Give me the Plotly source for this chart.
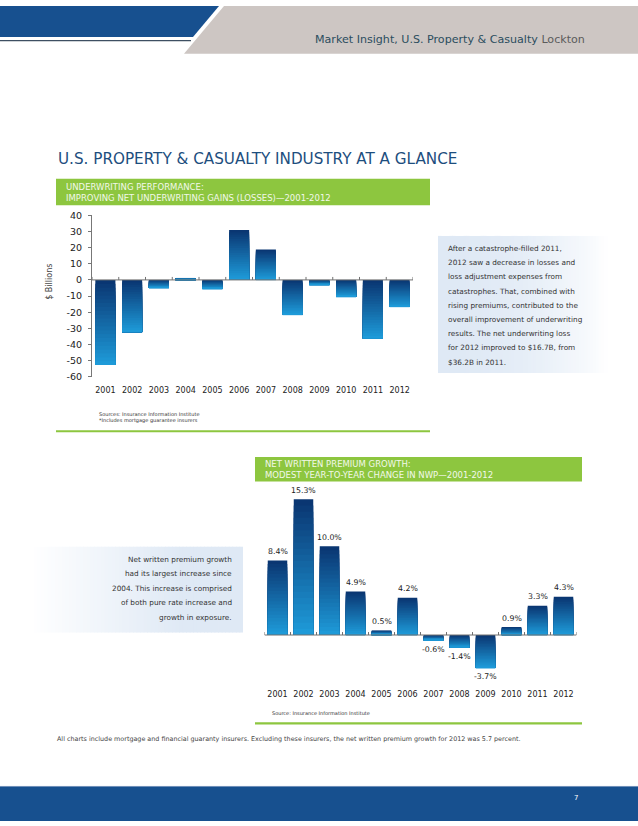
import plotly.graph_objects as go

W, H = 638, 826

# ---------------- data ----------------
years = ["2001", "2002", "2003", "2004", "2005", "2006",
         "2007", "2008", "2009", "2010", "2011", "2012"]
uw_gain = [-52.6, -32.3, -5.0, 1.2, -5.6, 30.9, 18.8, -21.2, -3.1, -10.4, -36.2, -16.7]
uw_ticks = [40, 30, 20, 10, 0, -10, -20, -30, -40, -50, -60]
nwp_growth = [8.4, 15.3, 10.0, 4.9, 0.5, 4.2, -0.6, -1.4, -3.7, 0.9, 3.3, 4.3]

header_text = "Market Insight, U.S. Property & Casualty "
header_brand = "Lockton"
page_title = "U.S. PROPERTY & CASUALTY INDUSTRY AT A GLANCE"
box1_lines = ["UNDERWRITING PERFORMANCE:",
              "IMPROVING NET UNDERWRITING GAINS (LOSSES)\u20142001-2012"]
box2_lines = ["NET WRITTEN PREMIUM GROWTH:",
              "MODEST YEAR-TO-YEAR CHANGE IN NWP\u20142001-2012"]
note1_lines = ["After a catastrophe-filled 2011,",
               "2012 saw a decrease in losses and",
               "loss adjustment expenses from",
               "catastrophes. That, combined with",
               "rising premiums, contributed to the",
               "overall improvement of underwriting",
               "results. The net underwriting loss",
               "for 2012 improved to $16.7B, from",
               "$36.2B in 2011."]
note2_lines = ["Net written premium growth",
               "had its largest increase since",
               "2004. This increase is comprised",
               "of both pure rate increase and",
               "growth in exposure."]
src1_lines = ["Sources: Insurance Information Institute",
              "*Includes mortgage guarantee insurers"]
src2_text = "Source: Insurance Information Institute"
footnote = ("All charts include mortgage and financial guaranty insurers. Excluding these "
            "insurers, the net written premium growth for 2012 was 5.7 percent.")
page_no = "7"
y_title = "$ Billions"

# ---------------- style ----------------
FONT = "DejaVu Sans"
BLUE = "#17508f"
GREY = "#cdc6c3"
GREEN = "#8dc63f"
DARK = (10, 52, 112)
LIGHT = (30, 156, 218)
NLAYER = 22


def px(x):
    return x / W


def py(y):
    return 1 - y / H


def mix(c1, c2, t):
    t = max(0.0, min(1.0, t))
    return "rgb(%d,%d,%d)" % tuple(round(a + (b - a) * t) for a, b in zip(c1, c2))


def hex2rgb(h):
    h = h.lstrip("#")
    return tuple(int(h[i:i + 2], 16) for i in (0, 2, 4))


fig = go.Figure()


# gradient bars built by overlaying progressively shorter bars from the bottom edge
def add_gradient_bars(values, xa, ya):
    bases = [min(v, 0) for v in values]
    for k in range(NLAYER):
        frac = 1 - k / NLAYER
        fig.add_trace(go.Bar(
            x=years, y=[abs(v) * frac for v in values], base=bases,
            marker=dict(color=mix(DARK, LIGHT, (k + 0.5) / NLAYER), line=dict(width=0)),
            xaxis=xa, yaxis=ya, showlegend=False, hoverinfo="skip"))


add_gradient_bars(uw_gain, "x", "y")
add_gradient_bars(nwp_growth, "x2", "y2")

# ---------------- axes ----------------
c1_top, c1_bot, c1_left, c1_right = 212, 376, 92, 413
c2_left, c2_right = 264.5, 576.5
c2_zero, c2_ppu = 637.5, 8.99
c2_top, c2_bot = 485, 685
y2_range = [-(c2_bot - c2_zero) / c2_ppu, (c2_zero - c2_top) / c2_ppu]

fig.update_layout(
    width=W, height=H, margin=dict(l=0, r=0, t=0, b=0),
    paper_bgcolor="white", plot_bgcolor="rgba(0,0,0,0)",
    barmode="overlay", bargap=0.25, showlegend=False,
    xaxis=dict(domain=[px(c1_left), px(c1_right)], type="category",
               range=[-0.5, len(years) - 0.5], showline=False, showgrid=False,
               zeroline=False, ticks="", tickfont=dict(family=FONT, size=8, color="#222"),
               ticklabelstandoff=7, fixedrange=True),
    yaxis=dict(domain=[py(c1_bot), py(c1_top)], range=[min(uw_ticks), max(uw_ticks)],
               tickvals=uw_ticks, ticktext=[str(t) for t in uw_ticks],
               showline=True, linecolor="#777", linewidth=1,
               ticks="outside", ticklen=3, tickcolor="#777", showgrid=False,
               zeroline=False, tickfont=dict(family=FONT, size=9.5, color="#222"),
               ticklabelstandoff=4, fixedrange=True),
    xaxis2=dict(domain=[px(c2_left), px(c2_right)], type="category", anchor="y2",
                range=[-0.5, len(years) - 0.5], showline=False, showgrid=False,
                zeroline=False, ticks="", tickfont=dict(family=FONT, size=8, color="#222"),
                ticklabelstandoff=6, fixedrange=True),
    yaxis2=dict(domain=[py(c2_bot), py(c2_top)], range=y2_range, anchor="x2",
                showline=False, showgrid=False, zeroline=False, showticklabels=False,
                ticks="", fixedrange=True),
)

shapes = []
annots = []

# header
shapes.append(dict(type="path", xref="paper", yref="paper", line=dict(width=0), fillcolor=BLUE,
                   path="M %f %f L %f %f L %f %f L %f %f Z" % (
                       px(0), py(0), px(219), py(0), px(193), py(31.5), px(0), py(31.5)),
                   layer="below"))
shapes.append(dict(type="path", xref="paper", yref="paper", line=dict(width=0), fillcolor=GREY,
                   path="M %f %f L %f %f L %f %f L %f %f Z" % (
                       px(224), py(0), px(W), py(0), px(W), py(48.3), px(184), py(48.3)),
                   layer="below"))
shapes.append(dict(type="line", xref="paper", yref="paper", x0=px(0), x1=px(191),
                   y0=py(35), y1=py(35), line=dict(color="#3e4f62", width=1.2)))
# footer
shapes.append(dict(type="rect", xref="paper", yref="paper", x0=0, x1=1, y0=py(H), y1=py(791),
                   fillcolor=BLUE, line=dict(width=0), layer="below"))
shapes.append(dict(type="line", xref="paper", yref="paper", x0=0, x1=1, y0=py(791), y1=py(791),
                   line=dict(color="#6d8fb8", width=1)))

# green title boxes and rules
for (x0, x1, y0, y1) in [(56, 430, 175, 202), (255, 582, 457, 482)]:
    shapes.append(dict(type="rect", xref="paper", yref="paper", x0=px(x0), x1=px(x1),
                       y0=py(y1), y1=py(y0), fillcolor=GREEN, line=dict(width=0)))
for (x0, x1, y) in [(56, 430, 431), (255, 582, 727)]:
    shapes.append(dict(type="line", xref="paper", yref="paper", x0=px(x0), x1=px(x1),
                       y0=py(y), y1=py(y), line=dict(color=GREEN, width=2.2)))

# gradient note boxes (strips)
NB = 60
blue_bg = hex2rgb("#dfe9f5")
white = (255, 255, 255)
bx0, bx1, by0, by1 = 438, 607, 233, 372
for i in range(NB):
    xa = bx0 + (bx1 - bx0) * i / NB
    xb = bx0 + (bx1 - bx0) * (i + 1) / NB
    t = ((xa - bx0) / (bx1 - bx0)) ** 2.2
    shapes.append(dict(type="rect", xref="paper", yref="paper", x0=px(xa), x1=px(xb + 0.8),
                       y0=py(by1), y1=py(by0), fillcolor=mix(blue_bg, white, t),
                       line=dict(width=0), layer="below"))
bx0, bx1, by0, by1 = 30, 243, 548, 635
for i in range(NB):
    xa = bx0 + (bx1 - bx0) * i / NB
    xb = bx0 + (bx1 - bx0) * (i + 1) / NB
    t = min(1.0, (xa - bx0) / 150.0)
    shapes.append(dict(type="rect", xref="paper", yref="paper", x0=px(xa), x1=px(min(xb + 0.8, bx1)),
                       y0=py(by1), y1=py(by0), fillcolor=mix(white, blue_bg, t),
                       line=dict(width=0), layer="below"))


# zero lines with category boundary ticks
def zero_axis(xr, yr, tick_units):
    shapes.append(dict(type="line", xref=xr, yref=yr, x0=-0.5, x1=len(years) - 0.5, y0=0, y1=0,
                       line=dict(color="#707070", width=1)))
    for k in range(len(years) + 1):
        shapes.append(dict(type="line", xref=xr, yref=yr, x0=k - 0.5, x1=k - 0.5, y0=0,
                           y1=tick_units, line=dict(color="#707070", width=1)))


zero_axis("x", "y", 3 / 1.64)
zero_axis("x2", "y2", 3 / c2_ppu)

# value labels for chart 2 (category index positions)
for i, v in enumerate(nwp_growth):
    annots.append(dict(x=i, y=v, xref="x2", yref="y2", text="%.1f%%" % v, showarrow=False,
                       xanchor="center", yanchor="middle", yshift=9 if v >= 0 else -9,
                       font=dict(family=FONT, size=7.8, color="#222")))


# texts
def txt(x, y, s, size, color, xanchor="left", family=FONT, **kw):
    annots.append(dict(x=px(x), y=py(y), xref="paper", yref="paper", text=s, showarrow=False,
                       xanchor=xanchor, yanchor="middle",
                       font=dict(family=family, size=size, color=color), **kw))


txt(587, 33.5, header_text + "<span style='color:#5b5b5b'>" + header_brand + "</span>",
    11.1, "#2b4d5e", xanchor="right")
txt(56, 155, page_title, 15.2, "#1d4e7e")
txt(64, 183.5, box1_lines[0], 8.5, "#f2f8ea")
txt(64, 194.5, box1_lines[1], 8.5, "#f2f8ea")
txt(263, 464, box2_lines[0], 8.5, "#f2f8ea")
txt(263, 475.5, box2_lines[1], 8.5, "#f2f8ea")
for i, s in enumerate(note1_lines):
    txt(446, 245.7 + i * 14.4, s, 7.3, "#333333")
for i, s in enumerate(note2_lines):
    txt(234, 561 + i * 14.6, s, 7.3, "#333333", xanchor="right")
txt(97, 413, src1_lines[0], 5, "#333333")
txt(97, 420, src1_lines[1], 5, "#333333")
txt(270, 717, src2_text, 5, "#333333")
txt(55, 742.7, footnote, 6.4, "#444444")
txt(576, 803, page_no, 7, "white", xanchor="center")
annots.append(dict(x=px(49.5), y=py(280), xref="paper", yref="paper", text=y_title,
                   showarrow=False, textangle=-90, xanchor="center", yanchor="middle",
                   font=dict(family=FONT, size=8, color="#444")))

fig.update_layout(shapes=shapes, annotations=annots)
fig.write_html(
    "out.html", config={"displayModeBar": False},
    post_script=(
        "document.documentElement.style.margin='0px';"
        "document.documentElement.style.overflow='hidden';"
        "document.body.style.margin='0px';document.body.style.padding='0px';"
        "document.body.style.overflow='hidden';"
        "var gd=document.getElementById('{plot_id}');"
        "gd.style.position='absolute';gd.style.top='0px';gd.style.left='0px';"
    ))
